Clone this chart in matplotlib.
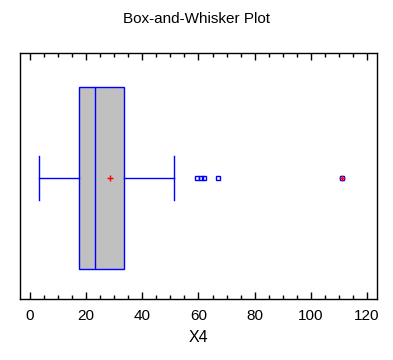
import numpy as np
import matplotlib
matplotlib.use("Agg")
import matplotlib.pyplot as plt
from matplotlib.ticker import MultipleLocator

plt.rcParams['font.family'] = ['Liberation Sans', 'DejaVu Sans']

# summary statistics
variable = "X4"
q1, median, q3 = 17.6, 23.3, 33.6
whisker_lo, whisker_hi = 3.3, 51.4
mean_val = 28.4
outliers = [59.6, 60.9, 62.1, 66.8]
far_outliers = [111.2]

stats = [{
    'med': median, 'q1': q1, 'q3': q3,
    'whislo': whisker_lo, 'whishi': whisker_hi,
    'mean': mean_val, 'fliers': outliers + far_outliers,
    'label': variable,
}]

fig = plt.figure(figsize=(3.93, 3.6), dpi=100)
ax = fig.add_axes([20 / 393, 61 / 360, 357 / 393, 246 / 360])

blue = '#0000ff'
pos = 0.491
ax.bxp(stats, positions=[pos], widths=0.741, vert=False, patch_artist=True,
       showmeans=True, showcaps=True,
       boxprops=dict(facecolor='#c0c0c0', edgecolor=blue, linewidth=1),
       medianprops=dict(color=blue, linewidth=1),
       whiskerprops=dict(color=blue, linewidth=1),
       capprops=dict(color=blue, linewidth=1),
       capwidths=0.18,
       meanprops=dict(marker='+', markeredgecolor='red', markersize=5, markeredgewidth=1),
       flierprops=dict(marker='s', markerfacecolor='none', markeredgecolor=blue,
                       markersize=3, markeredgewidth=1, linestyle='none'))

# far outliers get an extra red plus
ax.plot(far_outliers, [pos] * len(far_outliers), linestyle='none', marker='+',
        color='red', markersize=5, markeredgewidth=1)

ax.set_xlim(-3.56, 123.56)
ax.set_ylim(0, 1)
ax.set_yticks([])
ax.xaxis.set_major_locator(MultipleLocator(20))
ax.xaxis.set_minor_locator(MultipleLocator(5))
ax.tick_params(axis='x', which='both', direction='in', top=True, bottom=True,
               labelsize=11, pad=7)
ax.tick_params(axis='x', which='major', length=5, width=1)
ax.tick_params(axis='x', which='minor', length=3, width=1)
for s in ax.spines.values():
    s.set_linewidth(1)

ax.set_xlabel(variable, fontsize=11.5, labelpad=5)
fig.text(0.5, 1 - 19 / 360, "Box-and-Whisker Plot", ha='center', va='center', fontsize=11)

fig.savefig("out.png", dpi=100)
